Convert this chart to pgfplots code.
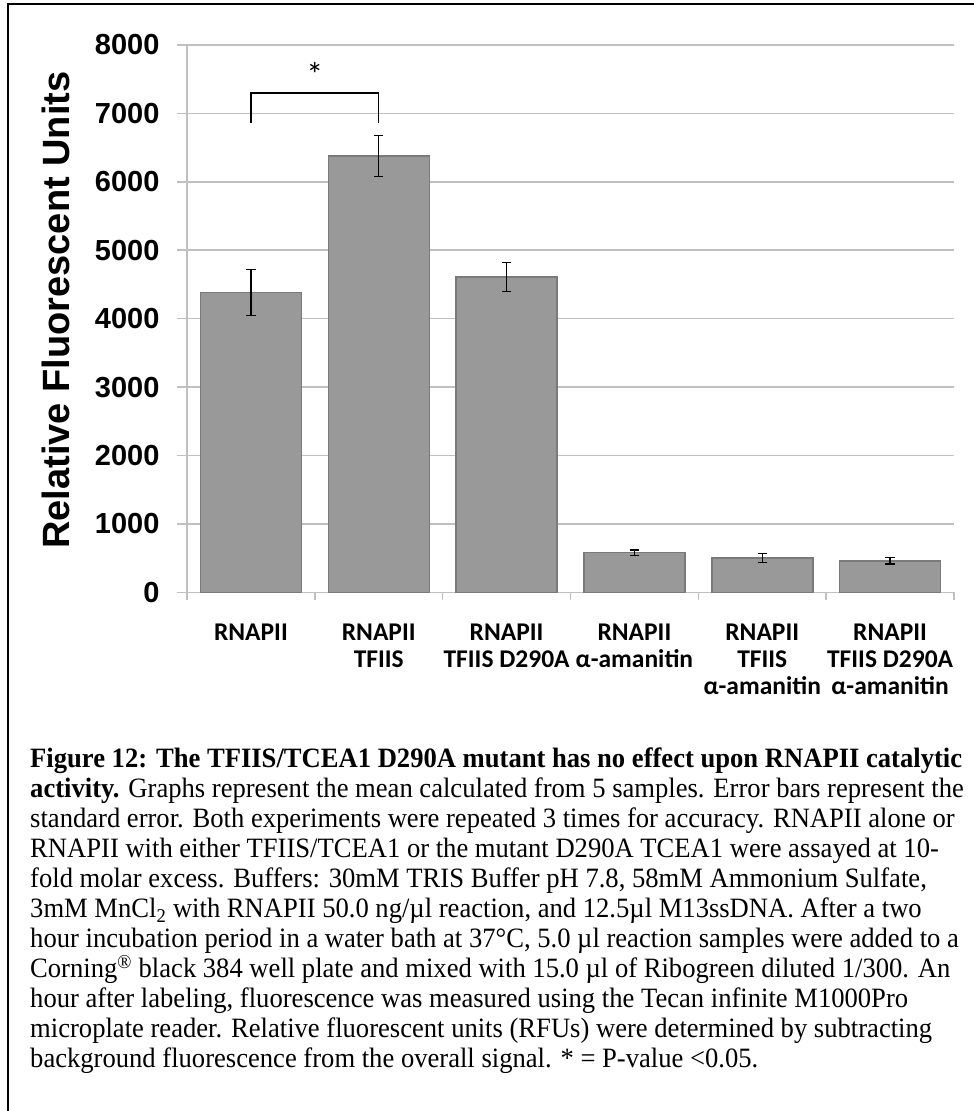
\documentclass[border=0pt]{standalone}
\usepackage{fontspec}
\setmainfont{Liberation Serif}[FakeStretch=0.95]
\newfontfamily\arialfont{Liberation Sans}
\newfontfamily\califont{Carlito}
\usepackage{pgfplots}
\usepackage{pgfplotstable}
\pgfplotsset{compat=1.18}
\definecolor{barfill}{RGB}{153,153,153}
\definecolor{baredge}{RGB}{122,122,122}
\definecolor{gridc}{RGB}{192,192,192}

\pgfplotstableread{
x y e
0 4380 335
1 6380 300
2 4610 215
3 580 40
4 500 65
5 460 45
}\datatable

\begin{document}
\begin{tikzpicture}
\useasboundingbox (0pt,0pt) rectangle (974pt,-1111pt);
\begin{scope}
\clip (0pt,0pt) rectangle (974pt,-1111pt);
\draw[line width=1.6pt] (8pt,-4pt) rectangle (990pt,-1130pt);
\end{scope}
\begin{axis}[
  at={(187pt,-592.3pt)}, anchor=south west,
  scale only axis, width=767pt, height=547.3pt,
  xmin=-0.5, xmax=5.5, ymin=0, ymax=8000,
  axis x line*=bottom, axis y line*=left,
  axis line style={draw=gridc, line width=1.5pt, -},
  ytick={0,1000,...,8000},
  ymajorgrids,
  major grid style={draw=gridc, line width=1.5pt},
  tick align=outside,
  major tick length=10pt, minor tick length=8pt,
  tick style={draw=gridc, line width=1.5pt},
  xtick={0,...,5},
  major x tick style={draw=none},
  minor xtick={-0.5,0.5,...,5.5},
  xticklabels={RNAPII, {RNAPII\\TFIIS}, {RNAPII\\TFIIS D290A}, {RNAPII\\α-amanitin}, {RNAPII\\TFIIS\\α-amanitin}, {RNAPII\\TFIIS D290A\\α-amanitin}},
  xticklabel style={align=center, anchor=north, yshift=-18pt, font=\califont\bfseries\fontsize{25.5}{27}\selectfont},
  yticklabel style={xshift=-14pt, font=\arialfont\bfseries\fontsize{29}{30}\selectfont},
  /pgf/number format/.cd, 1000 sep={}, assume math mode=true,
  /pgfplots/.cd,
  ylabel={Relative Fluorescent Units},
  ylabel style={font=\arialfont\bfseries\fontsize{38}{40}\selectfont, at={(axis description cs:-0.1482,0.5157)}, anchor=south},
]
\addplot[ybar, bar width=101pt, fill=barfill, draw=baredge, line width=1.5pt,
  error bars/.cd, y dir=both, y explicit,
  error bar style={line width=1.3pt, black},
  error mark options={rotate=90, mark size=4.7pt, line width=1.3pt, black}]
  table[x=x, y=y, y error=e] {\datatable};
\draw[line width=1.3pt, black] (axis cs:0,6860) -- (axis cs:0,7300) -- (axis cs:1,7300) -- (axis cs:1,6860);
\node[anchor=base, inner sep=0pt, font=\califont\fontsize{34}{36}\selectfont] at (axis cs:0.5,7387) {*};
\end{axis}
\node[anchor=north west, align=left, inner sep=0pt, font=\fontsize{28}{30}\selectfont] at (30pt,-748pt) {%
\textbf{Figure 12: The TFIIS/TCEA1 D290A mutant has no effect upon RNAPII catalytic}\\
\textbf{activity.} Graphs represent the mean calculated from 5 samples. Error bars represent the\\
standard error. Both experiments were repeated 3 times for accuracy. RNAPII alone or\\
RNAPII with either TFIIS/TCEA1 or the mutant D290A TCEA1 were assayed at 10-\\
fold molar excess. Buffers: 30mM TRIS Buffer pH 7.8, 58mM Ammonium Sulfate,\\
3mM MnCl\textsubscript{2} with RNAPII 50.0 ng/µl reaction, and 12.5µl M13ssDNA. After a two\\
hour incubation period in a water bath at 37°C, 5.0 µl reaction samples were added to a\\
Corning\textsuperscript{®} black 384 well plate and mixed with 15.0 µl of Ribogreen diluted 1/300. An\\
hour after labeling, fluorescence was measured using the Tecan infinite M1000Pro\\
microplate reader. Relative fluorescent units (RFUs) were determined by subtracting\\
background fluorescence from the overall signal. * = P-value <0.05.};
\end{tikzpicture}
\end{document}
